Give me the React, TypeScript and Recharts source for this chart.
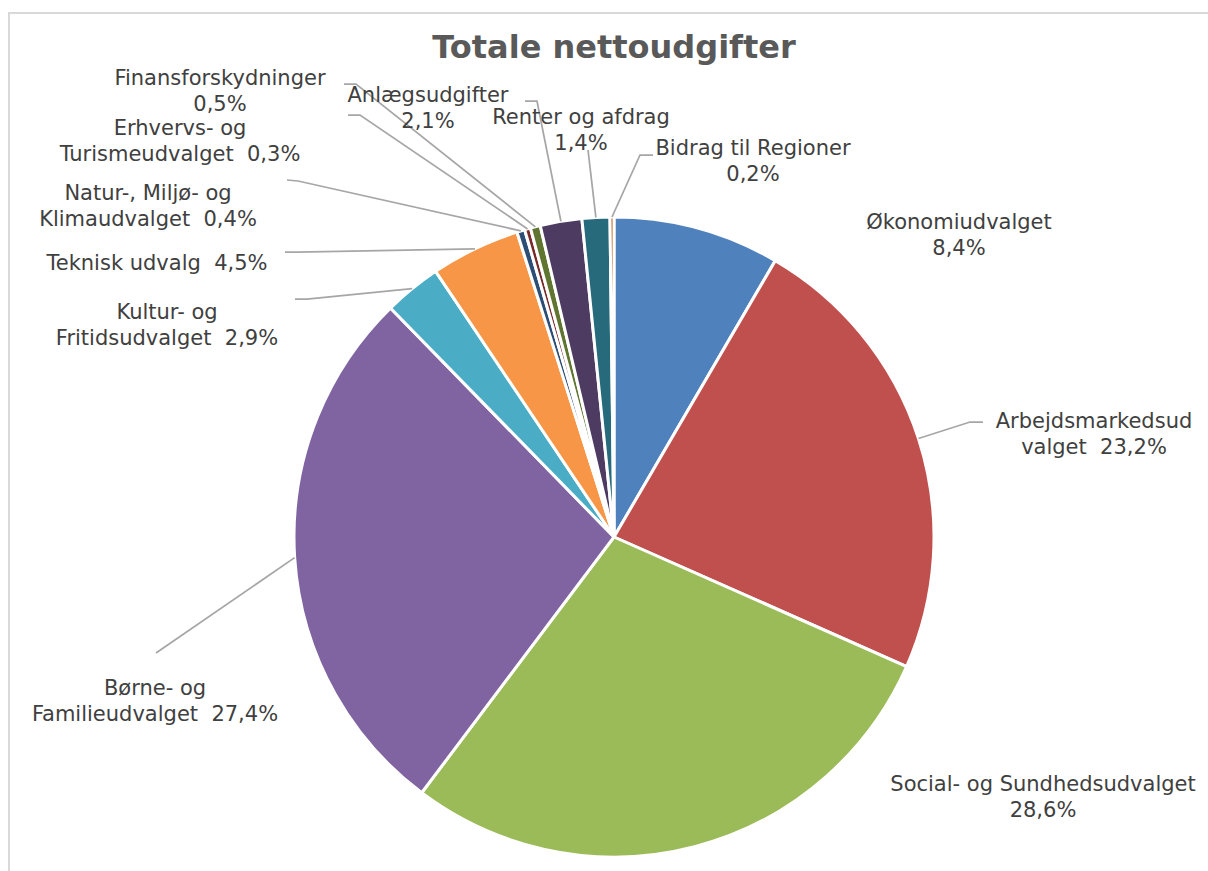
import React from "react";
import { PieChart, Pie, Cell } from "recharts";

// udvalg og andel af totale nettoudgifter (%)
const names = [
  "Økonomiudvalget",
  "Arbejdsmarkedsudvalget",
  "Social- og Sundhedsudvalget",
  "Børne- og Familieudvalget",
  "Kultur- og Fritidsudvalget",
  "Teknisk udvalg",
  "Natur-, Miljø- og Klimaudvalget",
  "Erhvervs- og Turismeudvalget",
  "Finansforskydninger",
  "Anlægsudgifter",
  "Renter og afdrag",
  "Bidrag til Regioner",
];
const shares = [8.4, 23.2, 28.6, 27.4, 2.9, 4.5, 0.4, 0.3, 0.5, 2.1, 1.4, 0.2];

// label lines as Excel wrapped them, {p} = percentage
const labelLines = [
  ["Økonomiudvalget", "{p}"],
  ["Arbejdsmarkedsud", "valget  {p}"],
  ["Social- og Sundhedsudvalget", "{p}"],
  ["Børne- og", "Familieudvalget  {p}"],
  ["Kultur- og", "Fritidsudvalget  {p}"],
  ["Teknisk udvalg  {p}"],
  ["Natur-, Miljø- og", "Klimaudvalget  {p}"],
  ["Erhvervs- og", "Turismeudvalget  {p}"],
  ["Finansforskydninger", "{p}"],
  ["Anlægsudgifter", "{p}"],
  ["Renter og afdrag", "{p}"],
  ["Bidrag til Regioner", "{p}"],
];

const colors = [
  "#4F81BD", "#C0504D", "#9BBB59", "#8064A2", "#4BACC6", "#F79646",
  "#2C4D75", "#772C2A", "#5F7530", "#4D3B62", "#276A7C", "#B65708",
];

// label placement (text centre x, first line y) and leader points near the text
const labelPos: { x: number; y: number; leader: number[][] }[] = [
  { x: 959, y: 222, leader: [] },
  { x: 1094, y: 421, leader: [[983, 422], [970, 422]] },
  { x: 1043, y: 784, leader: [] },
  { x: 155, y: 688, leader: [[156, 653]] },
  { x: 167, y: 312, leader: [[295, 299], [307, 299]] },
  { x: 157, y: 263, leader: [[285, 252], [297, 252]] },
  { x: 148, y: 193, leader: [[287, 180], [298, 181]] },
  { x: 180, y: 128, leader: [[348, 115], [360, 115]] },
  { x: 220, y: 78, leader: [[344, 84], [356, 84]] },
  { x: 428, y: 95, leader: [[525, 101], [537, 101]] },
  { x: 581, y: 117, leader: [[588, 150]] },
  { x: 753, y: 148, leader: [[653, 155], [640, 155]] },
];

const data = names.map((name, i) => ({ name, value: shares[i] }));

const RAD = Math.PI / 180;
const fmt = (v: number) => v.toFixed(1).replace(".", ",") + "%";

const renderLabel = (props: any) => {
  const { cx, cy, midAngle, outerRadius, index, value } = props;
  const pos = labelPos[index];
  const sx = cx + outerRadius * Math.cos(-midAngle * RAD);
  const sy = cy + outerRadius * Math.sin(-midAngle * RAD);
  const pts = pos.leader.length ? [...pos.leader, [sx, sy]] : [];
  return (
    <g key={`lbl-${index}`}>
      {pts.length > 0 && (
        <polyline
          points={pts.map((p) => p.join(",")).join(" ")}
          fill="none"
          stroke="#A6A6A6"
          strokeWidth={1.75}
        />
      )}
      {labelLines[index].map((line, j) => (
        <text
          key={j}
          x={pos.x}
          y={pos.y + j * 25.5}
          textAnchor="middle"
          dominantBaseline="central"
          fontFamily="DejaVu Sans, Verdana, sans-serif"
          fontSize={21}
          fill="#404040"
          style={{ whiteSpace: "pre" }}
        >
          {line.replace("{p}", fmt(value))}
        </text>
      ))}
    </g>
  );
};

export default function App() {
  return (
    <div style={{ position: "absolute", left: 0, top: 0, width: 1208, height: 871, overflow: "hidden", background: "#fff" }}>
      <div style={{ position: "absolute", left: 8, top: 12, width: 1300, height: 1000, border: "2px solid #D9D9D9" }} />
      <div
        style={{
          position: "absolute", left: 0, top: 28, width: 1228, textAlign: "center",
          fontFamily: "DejaVu Sans, Verdana, sans-serif", fontWeight: "bold", fontSize: 32,
          lineHeight: "38px", color: "#595959",
        }}
      >
        Totale nettoudgifter
      </div>
      <div style={{ position: "absolute", left: 0, top: 0 }}>
        <PieChart width={1208} height={871} margin={{ top: 0, right: 0, bottom: 0, left: 0 }}>
          <Pie
            data={data}
            dataKey="value"
            nameKey="name"
            cx={614}
            cy={537}
            outerRadius={320}
            startAngle={90}
            endAngle={-270}
            stroke="#fff"
            strokeWidth={3}
            label={renderLabel}
            labelLine={false}
            isAnimationActive={false}
          >
            {data.map((d, i) => (
              <Cell key={d.name} fill={colors[i]} />
            ))}
          </Pie>
        </PieChart>
      </div>
    </div>
  );
}
